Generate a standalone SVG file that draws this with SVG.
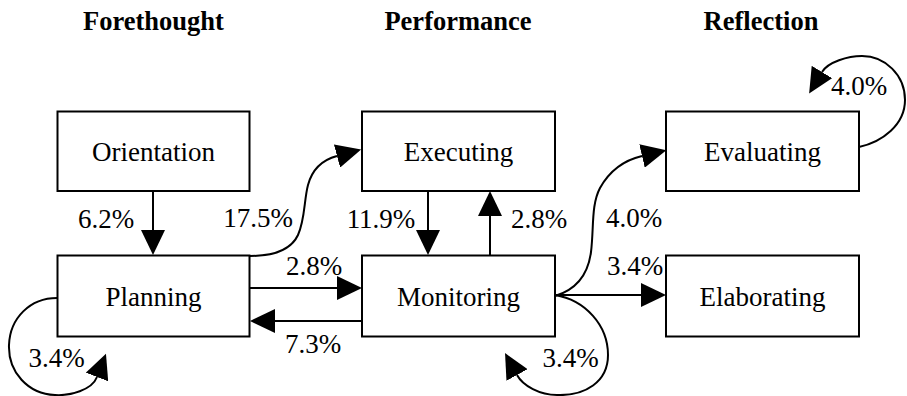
<svg xmlns="http://www.w3.org/2000/svg" width="907" height="396" viewBox="0 0 907 396">
  <style>
    text { font-family: 'Liberation Serif', 'Times New Roman', serif; fill: #000000; text-anchor: middle; }
    .node rect { fill: #ffffff; stroke: #000000; stroke-width: 2; }
    .label { font-size: 27px; }
    .phase { font-size: 26.5px; font-weight: bold; }
    .edge path { fill: none; stroke: #000000; stroke-width: 2; marker-end: url(#arrow); }
  </style>
  <defs>
    <marker id="arrow" markerUnits="userSpaceOnUse" viewBox="0 0 25 24" refX="0" refY="12" markerWidth="25" markerHeight="24" orient="auto">
      <path d="M0,0 L25,12 L0,24 Z" fill="#000000"/>
    </marker>
  </defs>
  <rect width="907" height="396" fill="#ffffff"/>

  <!-- phase headings -->
  <g id="phases">
    <text class="phase" x="153.5" y="30">Forethought</text>
    <text class="phase" x="458" y="30">Performance</text>
    <text class="phase" x="761" y="30">Reflection</text>
  </g>

  <!-- nodes -->
  <g id="orientation" class="node">
    <rect x="57.5" y="111.5" width="192" height="79.5"/>
    <text class="label" x="153.5" y="161">Orientation</text>
  </g>
  <g id="executing" class="node">
    <rect x="362" y="111.5" width="193" height="79.5"/>
    <text class="label" x="458.5" y="161">Executing</text>
  </g>
  <g id="evaluating" class="node">
    <rect x="666" y="111.5" width="193" height="79.5"/>
    <text class="label" x="762.5" y="161">Evaluating</text>
  </g>
  <g id="planning" class="node">
    <rect x="57.5" y="255.5" width="192" height="81"/>
    <text class="label" x="153.5" y="306">Planning</text>
  </g>
  <g id="monitoring" class="node">
    <rect x="362" y="255.5" width="193" height="81"/>
    <text class="label" x="458.5" y="306">Monitoring</text>
  </g>
  <g id="elaborating" class="node">
    <rect x="666" y="255.5" width="193" height="81"/>
    <text class="label" x="762.5" y="306">Elaborating</text>
  </g>

  <!-- transitions -->
  <g id="edges" class="edge">
    <path d="M153,191 L153,230"/>
    <text class="label" x="106" y="228">6.2%</text>

    <path d="M250,256 C270,256 290,252 298,235 C305,220 304,200 308,185 C312,170 322,160 337,156"/>
    <text class="label" x="258" y="227">17.5%</text>

    <path d="M428,191 L428,230"/>
    <text class="label" x="381" y="228">11.9%</text>

    <path d="M490,255.5 L490,216"/>
    <text class="label" x="539" y="228">2.8%</text>

    <path d="M250,288 L337,288"/>
    <text class="label" x="314" y="275">2.8%</text>

    <path d="M362,321 L275,321"/>
    <text class="label" x="313" y="353">7.3%</text>

    <path d="M555,296 C575,290 588,275 591,252 C594,228 591,205 600,188 C610,170 625,160 642,156"/>
    <text class="label" x="634" y="227">4.0%</text>

    <path d="M555,295 L641,295"/>
    <text class="label" x="635" y="275">3.4%</text>

    <path d="M57,298 C30,298 10,318 9,345 C8,372 28,394 55,395 C70,396 92,390 97,377"/>
    <text class="label" x="56.5" y="367">3.4%</text>

    <path d="M555,295 C585,300 608,325 608,355 C608,382 585,396 557,395 C540,395 523,386 517,375"/>
    <text class="label" x="570.5" y="367">3.4%</text>

    <path d="M859,147 C882,142 905,125 905,100 C905,75 885,56 862,56 C848,56 828,62 822,72"/>
    <text class="label" x="859" y="95">4.0%</text>
  </g>
</svg>
